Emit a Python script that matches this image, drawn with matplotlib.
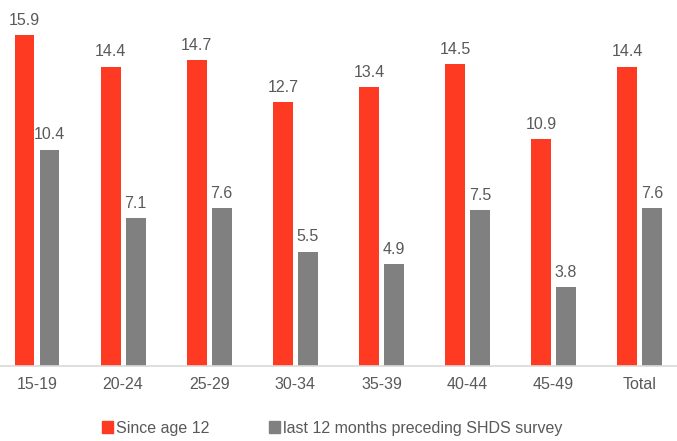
import numpy as np
import matplotlib
matplotlib.use("Agg")
import matplotlib.pyplot as plt
from matplotlib.patches import Patch

categories = ["15-19", "20-24", "25-29", "30-34", "35-39", "40-44", "45-49", "Total"]
since_age_12 = [15.9, 14.4, 14.7, 12.7, 13.4, 14.5, 10.9, 14.4]
last_12_months = [10.4, 7.1, 7.6, 5.5, 4.9, 7.5, 3.8, 7.6]
series_names = ["Since age 12", "last 12 months preceding SHDS survey"]

RED = "#ff3a22"
GREY = "#808080"
TEXT = "#595959"

plt.rcParams['font.family'] = ['Liberation Sans', 'DejaVu Sans']

fig = plt.figure(figsize=(6.77, 4.41), dpi=100)
ax = fig.add_axes([0, 0.17, 1, 0.83])

x = np.arange(len(categories))
w = 0.23
off = 0.145

b1 = ax.bar(x - off, since_age_12, w, color=RED)
b2 = ax.bar(x + off, last_12_months, w, color=GREY)

for bars, vals in ((b1, since_age_12), (b2, last_12_months)):
    for b, v in zip(bars, vals):
        ax.text(b.get_x() + b.get_width() / 2, v + 0.35, f"{v:.1f}",
                ha="center", va="bottom", fontsize=11.5, color=TEXT)

ax.set_xlim(-0.43, -0.43 + 677 / 86.1)
ax.set_ylim(0, 17.6)
ax.set_xticks(x)
ax.set_xticklabels(categories, fontsize=11.5, color=TEXT)
ax.tick_params(axis="x", length=0, pad=8)
ax.set_yticks([])
for s in ["top", "right", "left"]:
    ax.spines[s].set_visible(False)
ax.spines["bottom"].set_color("#d9d9d9")
ax.spines["bottom"].set_linewidth(1.2)

handles = [Patch(color=RED), Patch(color=GREY)]
leg = fig.legend(handles, series_names, loc="center", bbox_to_anchor=(0.491, 1 - 428 / 441),
                 ncol=2, frameon=False, fontsize=11.5, handlelength=0.7, handleheight=0.7,
                 handletextpad=0.2, columnspacing=3.7)
for t in leg.get_texts():
    t.set_color(TEXT)

plt.savefig("out.png", dpi=100)
